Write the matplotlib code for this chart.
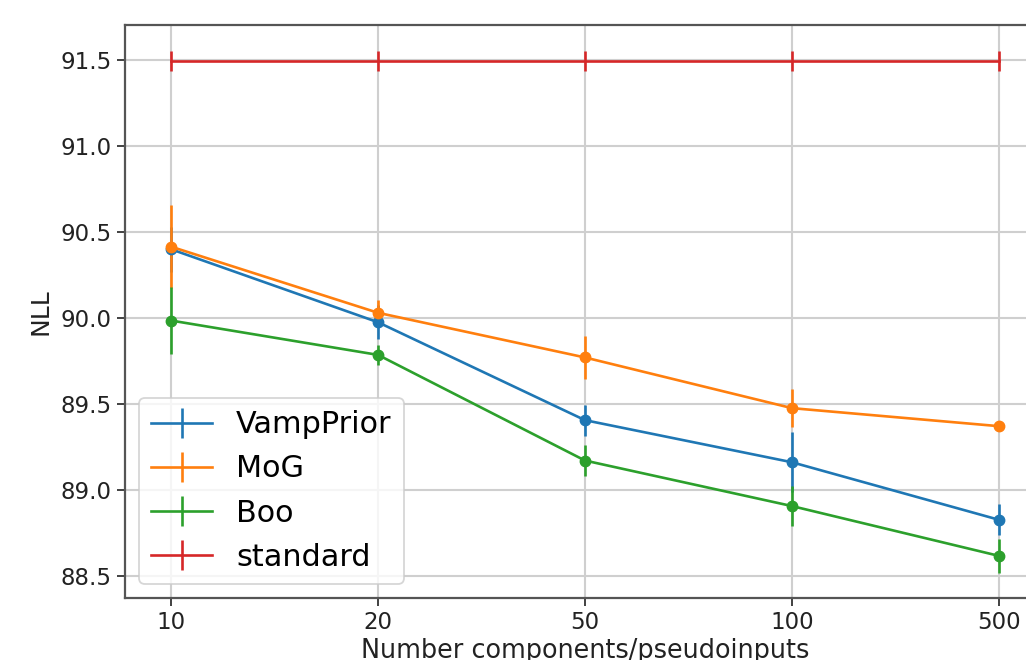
import matplotlib
matplotlib.use("Agg")
import matplotlib.pyplot as plt
from matplotlib.lines import Line2D
import numpy as np

# Number of components / pseudo-inputs (drawn at evenly spaced positions)
components = ["10", "20", "50", "100", "500"]

vamp_nll = [90.40, 89.975, 89.405, 89.16, 88.825]
vamp_err = [0.13, 0.10, 0.09, 0.175, 0.09]

mog_nll = [90.415, 90.03, 89.77, 89.475, 89.37]
mog_err = [0.24, 0.075, 0.125, 0.11, 0.01]

boo_nll = [89.985, 89.785, 89.17, 88.905, 88.615]
boo_err = [0.195, 0.06, 0.09, 0.115, 0.10]

standard_nll = [91.495, 91.495, 91.495, 91.495, 91.495]
standard_err = [0.056, 0.056, 0.056, 0.056, 0.056]

plt.rcParams["font.family"] = "DejaVu Sans"
fig = plt.figure(figsize=(10.26, 6.6), dpi=100)
ax = fig.add_axes([125 / 1026, 62 / 660, 920 / 1026, 573 / 660])

x = np.arange(len(components))
lw = 1.9
ax.errorbar(x, vamp_nll, yerr=vamp_err, fmt="-o", color="#1f77b4",
            lw=lw, elinewidth=lw, ms=7.5, label="VampPrior")
ax.errorbar(x, mog_nll, yerr=mog_err, fmt="-o", color="#ff7f0e",
            lw=lw, elinewidth=lw, ms=7.5, label="MoG")
ax.errorbar(x, boo_nll, yerr=boo_err, fmt="-o", color="#2ca02c",
            lw=lw, elinewidth=lw, ms=7.5, label="Boo")
ax.errorbar(x, standard_nll, yerr=standard_err, fmt="-", color="#d62728",
            lw=lw, elinewidth=lw, label="standard")

ax.set_xticks(x)
ax.set_xticklabels(components)
ax.set_xlim(-0.222, 4.222)
ax.set_ylim(88.37, 91.705)
ax.set_yticks([88.5, 89.0, 89.5, 90.0, 90.5, 91.0, 91.5])
ax.set_yticklabels(["88.5", "89.0", "89.5", "90.0", "90.5", "91.0", "91.5"])

ax.grid(True, color="#cfcfcf", lw=1.5)
ax.set_axisbelow(True)
for s in ax.spines.values():
    s.set_color("#555555")
    s.set_linewidth(1.6)
ax.tick_params(labelsize=16.5, length=6, width=1.3, color="#333333",
               labelcolor="#222222")

ax.set_xlabel("Number components/pseudoinputs", fontsize=18.4, color="#222222",
              labelpad=3)
ax.set_ylabel("NLL", fontsize=18, color="#222222", labelpad=6)

leg = ax.legend(loc="lower left", fontsize=21.8, handlelength=2.0,
                borderaxespad=0.45, labelspacing=0.5, handletextpad=0.8,
                borderpad=0.42)
leg.get_frame().set_edgecolor("#cccccc")
leg.get_frame().set_linewidth(1.3)
# Legend keys show only the line and the error bar, without the dot marker
for line in leg.findobj(Line2D):
    line.set_marker("None")

fig.savefig("out.png", dpi=100)
